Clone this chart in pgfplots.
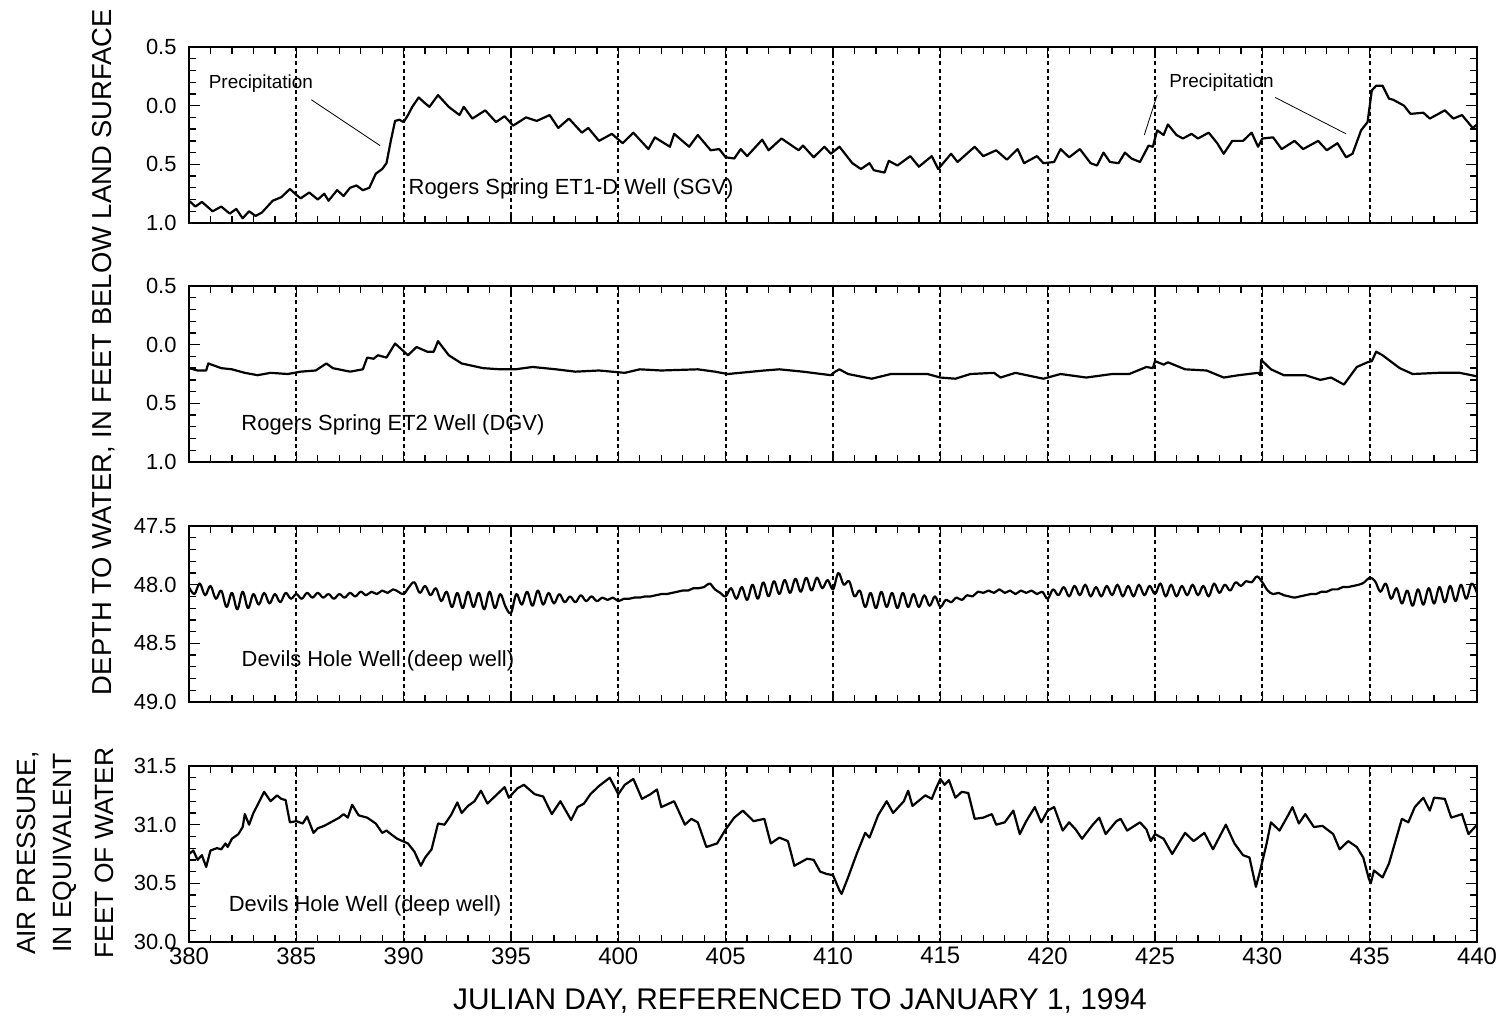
\documentclass[border=0pt]{standalone}
\usepackage{fontspec}
\setmainfont{Liberation Sans}
\usepackage{pgfplots}
\pgfplotsset{compat=1.18}
\pgfplotsset{
  panel/.style={
    width=1288bp, height=176bp, scale only axis, anchor=north west,
    xmin=380, xmax=440,
    xtick={380,385,...,440},
    minor x tick num=4,
    minor y tick num=4,
    axis line style={line width=2.4bp},
    major tick length=11bp,
    minor tick length=7bp,
    every tick/.style={black, line width=1.3bp},
    xmajorgrids,
    major grid style={black, line width=2bp, dash pattern=on 4bp off 3.2bp},
    yticklabel style={font=\fontsize{22}{26}\selectfont},
    yticklabel shift=9bp,
    xticklabel style={font=\fontsize{24}{28}\selectfont},
    /pgf/number format/assume math mode=true,
    xticklabels={},
  },
  curve/.style={black, line width=2.2bp, no marks, line join=round},
}
\tikzset{
  lbl/.style={font=\fontsize{22}{26}\selectfont},
  prc/.style={font=\fontsize{19}{22}\selectfont},
}
\begin{document}
\begin{tikzpicture}[x=1bp,y=1bp]
% ---------- Panel 1 ----------
\begin{axis}[panel, at={(189bp,-47bp)}, y dir=reverse, ymin=-0.5, ymax=1.0,
  ytick={-0.5,0,0.5,1}, yticklabels={0.5,0.0,0.5,1.0}]
\addplot[curve] coordinates {
(380.0,0.81)(380.3,0.86)(380.6,0.82)(381.1,0.90)(381.5,0.86)(381.9,0.92)(382.2,0.88)(382.5,0.96)
(382.8,0.90)(383.1,0.94)(383.4,0.91)(383.9,0.81)(384.3,0.78)(384.7,0.71)(385.0,0.76)(385.2,0.79)
(385.6,0.74)(386.0,0.80)(386.3,0.75)(386.5,0.81)(386.9,0.72)(387.2,0.77)(387.5,0.70)(387.8,0.68)
(388.1,0.72)(388.4,0.70)(388.7,0.58)(389.0,0.54)(389.2,0.49)(389.4,0.30)(389.6,0.13)(389.8,0.12)
(390.0,0.14)(390.2,0.08)(390.4,0.01)(390.7,-0.07)(391.0,-0.02)(391.2,0.01)(391.6,-0.09)(392.1,0.01)
(392.6,0.08)(392.8,0.01)(393.2,0.11)(393.8,0.04)(394.3,0.14)(394.7,0.09)(395.1,0.17)(395.7,0.10)
(396.2,0.13)(396.8,0.08)(397.2,0.19)(397.7,0.11)(398.3,0.23)(398.6,0.19)(399.1,0.30)(399.7,0.24)
(400.2,0.32)(400.7,0.23)(401.4,0.37)(401.7,0.27)(402.4,0.35)(402.6,0.24)(403.3,0.35)(403.7,0.25)
(404.3,0.38)(404.7,0.37)(405.0,0.44)(405.4,0.45)(405.7,0.37)(406.0,0.43)(406.7,0.29)(407.0,0.38)
(407.6,0.28)(408.4,0.38)(408.6,0.34)(409.1,0.44)(409.6,0.35)(409.9,0.41)(410.3,0.35)(410.9,0.49)
(411.3,0.54)(411.7,0.49)(411.9,0.55)(412.4,0.57)(412.6,0.47)(413.0,0.51)(413.6,0.43)(414.0,0.52)
(414.6,0.43)(414.9,0.54)(415.5,0.41)(415.8,0.48)(416.6,0.35)(417.0,0.43)(417.6,0.38)(418.1,0.46)
(418.6,0.37)(418.9,0.49)(419.5,0.43)(419.8,0.49)(420.3,0.48)(420.6,0.37)(421.0,0.44)(421.5,0.37)
(422.0,0.49)(422.3,0.51)(422.6,0.40)(422.9,0.48)(423.3,0.49)(423.6,0.40)(423.9,0.45)(424.3,0.48)
(424.7,0.34)(424.9,0.35)(425.1,0.21)(425.4,0.25)(425.6,0.16)(426.0,0.25)(426.3,0.28)(426.7,0.24)
(427.0,0.28)(427.5,0.23)(427.9,0.32)(428.2,0.41)(428.6,0.30)(429.1,0.30)(429.5,0.23)(429.8,0.35)
(430.0,0.28)(430.5,0.27)(430.9,0.37)(431.5,0.30)(431.9,0.37)(432.6,0.30)(433.0,0.38)(433.5,0.32)
(433.9,0.44)(434.2,0.41)(434.6,0.21)(434.9,0.14)(435.1,-0.13)(435.3,-0.17)(435.6,-0.17)(435.9,-0.06)
(436.1,-0.05)(436.6,0.00)(436.9,0.07)(437.5,0.06)(437.8,0.11)(438.5,0.04)(438.9,0.11)(439.3,0.08)
(439.8,0.19)(440.0,0.16)
};
\node[prc] at (axis cs:383.35,-0.19) {Precipitation};
\draw[line width=0.8bp] (axis cs:385.7,-0.05) -- (axis cs:388.9,0.34);
\node[prc] at (axis cs:428.1,-0.2) {Precipitation};
\draw[line width=0.8bp] (axis cs:425.1,-0.09) -- (axis cs:424.5,0.25);
\draw[line width=0.8bp] (axis cs:430.6,-0.07) -- (axis cs:433.9,0.24);
\node[lbl] at (axis cs:397.8,0.71) {Rogers Spring ET1-D Well (SGV)};
\end{axis}
% ---------- Panel 2 ----------
\begin{axis}[panel, at={(189bp,-286bp)}, y dir=reverse, ymin=-0.5, ymax=1.0,
  ytick={-0.5,0,0.5,1}, yticklabels={0.5,0.0,0.5,1.0}]
\addplot[curve] coordinates {
(380.0,0.20)(380.4,0.22)(380.8,0.22)(380.9,0.16)(381.5,0.20)(382.0,0.21)(382.6,0.24)(383.2,0.26)
(383.8,0.24)(384.6,0.25)(385.2,0.23)(385.9,0.22)(386.4,0.16)(386.7,0.20)(387.5,0.23)(388.1,0.21)
(388.3,0.11)(388.6,0.12)(388.8,0.09)(389.2,0.11)(389.6,-0.01)(390.2,0.09)(390.6,0.02)(391.1,0.06)
(391.4,0.06)(391.6,-0.03)(392.1,0.09)(392.7,0.16)(393.7,0.20)(394.5,0.21)(395.2,0.21)(396.0,0.19)
(397.1,0.21)(398.0,0.23)(399.1,0.22)(400.3,0.24)(401.0,0.21)(402.0,0.22)(403.7,0.21)(404.5,0.23)
(405.1,0.25)(406.8,0.22)(407.5,0.21)(408.6,0.23)(409.9,0.26)(410.1,0.23)(410.3,0.21)(410.7,0.25)
(411.8,0.29)(412.7,0.25)(413.5,0.25)(414.4,0.25)(415.0,0.28)(415.7,0.29)(416.4,0.25)(417.5,0.24)
(417.8,0.28)(418.5,0.24)(419.8,0.29)(420.6,0.25)(421.8,0.28)(423.0,0.25)(423.8,0.25)(424.6,0.19)
(424.9,0.20)(425.0,0.14)(425.4,0.17)(425.6,0.15)(426.4,0.21)(427.4,0.22)(428.2,0.28)(428.9,0.26)
(429.8,0.24)(429.9,0.26)(429.95,0.13)(430.4,0.21)(431.0,0.26)(432.0,0.26)(432.7,0.30)(433.2,0.28)
(433.8,0.34)(434.4,0.19)(434.9,0.15)(435.1,0.14)(435.3,0.06)(435.6,0.09)(436.4,0.20)(437.0,0.25)
(438.2,0.24)(439.2,0.24)(440.0,0.27)
};
\node[lbl] at (axis cs:389.5,0.68) {Rogers Spring ET2 Well (DGV)};
\end{axis}
% ---------- Panel 3 ----------
\begin{axis}[panel, at={(189bp,-526bp)}, y dir=reverse, ymin=47.5, ymax=49.0,
  ytick={47.5,48,48.5,49}, yticklabels={47.5,48.0,48.5,49.0}]
\addplot[curve, smooth, tension=0.6] coordinates {
(380.00,48.02)(380.25,48.08)(380.50,47.99)(380.75,48.09)(381.00,48.01)(381.25,48.12)(381.50,48.05)(381.75,48.19)
(382.00,48.07)(382.25,48.21)(382.50,48.06)(382.75,48.20)(383.00,48.08)(383.25,48.17)(383.50,48.07)(383.75,48.16)
(384.00,48.08)(384.25,48.15)(384.50,48.07)(384.75,48.12)(385.00,48.08)(385.25,48.12)(385.50,48.07)(385.75,48.11)
(386.00,48.07)(386.25,48.11)(386.50,48.08)(386.75,48.12)(387.00,48.08)(387.25,48.11)(387.50,48.07)(387.75,48.10)
(388.00,48.06)(388.25,48.09)(388.50,48.06)(388.75,48.08)(389.00,48.05)(389.25,48.07)(389.50,48.04)(389.75,48.06)
(390.00,48.08)(390.25,48.02)(390.50,47.98)(390.75,48.07)(391.00,48.01)(391.25,48.09)(391.50,48.03)(391.75,48.14)
(392.00,48.06)(392.25,48.19)(392.50,48.07)(392.75,48.20)(393.00,48.06)(393.25,48.19)(393.50,48.07)(393.75,48.21)
(394.00,48.06)(394.25,48.20)(394.50,48.08)(394.75,48.19)(395.00,48.24)(395.25,48.08)(395.50,48.17)(395.75,48.06)
(396.00,48.18)(396.25,48.05)(396.50,48.17)(396.75,48.07)(397.00,48.16)(397.25,48.08)(397.50,48.15)(397.75,48.10)
(398.00,48.15)(398.25,48.09)(398.50,48.14)(398.75,48.10)(399.00,48.14)(399.25,48.11)(399.50,48.13)(399.75,48.11)
(400.00,48.14)(400.25,48.12)(400.50,48.12)(400.75,48.11)(401.00,48.11)(401.25,48.10)(401.50,48.10)(401.75,48.09)
(402.00,48.08)(402.25,48.08)(402.50,48.07)(402.75,48.06)(403.00,48.05)(403.25,48.05)(403.50,48.03)(403.75,48.03)
(404.00,48.02)(404.25,47.99)(404.50,48.04)(404.75,48.07)(405.00,48.10)(405.25,48.03)(405.50,48.12)(405.75,48.02)
(406.00,48.13)(406.25,48.00)(406.50,48.12)(406.75,47.98)(407.00,48.10)(407.25,47.97)(407.50,48.08)(407.75,47.96)
(408.00,48.07)(408.25,47.95)(408.50,48.06)(408.75,47.94)(409.00,48.05)(409.25,47.94)(409.50,48.03)(409.75,47.96)
(410.00,48.04)(410.25,47.90)(410.50,48.00)(410.75,47.97)(411.00,48.10)(411.25,48.05)(411.50,48.19)(411.75,48.07)
(412.00,48.20)(412.25,48.06)(412.50,48.19)(412.75,48.07)(413.00,48.20)(413.25,48.07)(413.50,48.19)(413.75,48.08)
(414.00,48.19)(414.25,48.09)(414.50,48.18)(414.75,48.10)(415.00,48.19)(415.25,48.13)(415.50,48.15)(415.75,48.11)
(416.00,48.13)(416.25,48.09)(416.50,48.10)(416.75,48.06)(417.00,48.07)(417.25,48.05)(417.50,48.07)(417.75,48.04)
(418.00,48.07)(418.25,48.05)(418.50,48.08)(418.75,48.05)(419.00,48.07)(419.25,48.05)(419.50,48.08)(419.75,48.06)
(420.00,48.12)(420.25,48.04)(420.50,48.09)(420.75,48.02)(421.00,48.10)(421.25,48.01)(421.50,48.09)(421.75,48.00)
(422.00,48.10)(422.25,48.02)(422.50,48.10)(422.75,48.01)(423.00,48.09)(423.25,48.00)(423.50,48.10)(423.75,48.01)
(424.00,48.10)(424.25,48.00)(424.50,48.09)(424.75,48.01)(425.00,48.08)(425.25,47.99)(425.50,48.10)(425.75,48.00)
(426.00,48.10)(426.25,48.01)(426.50,48.09)(426.75,48.00)(427.00,48.09)(427.25,48.01)(427.50,48.10)(427.75,47.99)
(428.00,48.07)(428.25,48.00)(428.50,48.05)(428.75,47.98)(429.00,48.01)(429.25,47.97)(429.50,47.98)(429.75,47.93)
(430.00,47.98)(430.25,48.05)(430.50,48.08)(430.75,48.07)(431.00,48.09)(431.25,48.10)(431.50,48.11)(431.75,48.10)
(432.00,48.09)(432.25,48.08)(432.50,48.08)(432.75,48.06)(433.00,48.06)(433.25,48.04)(433.50,48.04)(433.75,48.02)
(434.00,48.02)(434.25,48.01)(434.50,48.00)(434.75,47.98)(435.00,47.94)(435.25,47.97)(435.50,48.06)(435.75,47.99)
(436.00,48.12)(436.25,48.03)(436.50,48.16)(436.75,48.05)(437.00,48.18)(437.25,48.04)(437.50,48.17)(437.75,48.03)
(438.00,48.16)(438.25,48.02)(438.50,48.15)(438.75,48.01)(439.00,48.14)(439.25,48.00)(439.50,48.12)(439.75,47.99)
(440.00,48.07)
};
\node[lbl] at (axis cs:388.8,48.65) {Devils Hole Well (deep well)};
\end{axis}
% ---------- Panel 4 ----------
\begin{axis}[panel, at={(189bp,-766bp)}, ymin=30.0, ymax=31.5,
  ytick={30,30.5,31,31.5}, yticklabels={30.0,30.5,31.0,31.5},
  xticklabels={380,385,390,395,400,405,410,415,420,425,430,435,440},
  xticklabel shift=2bp]
\addplot[curve] coordinates {
(380.0,30.75)(380.2,30.78)(380.4,30.70)(380.6,30.74)(380.8,30.64)(381.0,30.78)(381.3,30.80)(381.5,30.79)
(381.7,30.84)(381.8,30.81)(382.0,30.88)(382.3,30.92)(382.5,30.98)(382.6,31.09)(382.8,31.00)(383.0,31.10)
(383.2,31.17)(383.5,31.28)(383.8,31.20)(384.1,31.25)(384.3,31.22)(384.5,31.21)(384.7,31.02)(385.0,31.03)
(385.3,31.01)(385.5,31.07)(385.8,30.93)(386.0,30.97)(386.3,30.99)(386.7,31.03)(387.0,31.06)(387.2,31.09)
(387.4,31.06)(387.6,31.17)(387.9,31.08)(388.3,31.06)(388.7,31.01)(389.0,30.93)(389.2,30.95)(389.4,30.92)
(389.7,30.88)(390.2,30.84)(390.5,30.77)(390.8,30.65)(391.0,30.72)(391.3,30.79)(391.6,31.01)(391.9,31.00)
(392.2,31.08)(392.5,31.19)(392.7,31.10)(393.0,31.16)(393.3,31.20)(393.6,31.29)(393.9,31.18)(394.3,31.25)
(394.7,31.32)(394.9,31.23)(395.3,31.31)(395.6,31.34)(396.1,31.26)(396.5,31.24)(396.9,31.09)(397.3,31.20)
(397.8,31.04)(398.1,31.15)(398.4,31.18)(398.7,31.26)(399.1,31.33)(399.6,31.40)(400.0,31.26)(400.3,31.34)
(400.7,31.39)(401.1,31.22)(401.5,31.26)(401.8,31.30)(402.0,31.15)(402.6,31.20)(403.1,31.00)(403.4,31.05)
(403.7,31.02)(404.1,30.81)(404.6,30.84)(405.0,30.96)(405.4,31.06)(405.8,31.12)(406.3,31.03)(406.8,31.05)
(407.1,30.84)(407.5,30.89)(407.9,30.86)(408.2,30.65)(408.8,30.71)(409.1,30.70)(409.4,30.60)(409.7,30.58)
(410.0,30.57)(410.3,30.44)(410.4,30.41)(410.7,30.55)(411.1,30.75)(411.5,30.93)(411.7,30.89)(412.1,31.08)
(412.5,31.20)(412.8,31.10)(413.3,31.20)(413.5,31.29)(413.7,31.16)(414.3,31.25)(414.6,31.22)(414.8,31.31)
(415.0,31.39)(415.2,31.34)(415.4,31.38)(415.7,31.23)(416.0,31.28)(416.3,31.27)(416.6,31.05)(417.0,31.06)
(417.4,31.09)(417.6,31.00)(418.0,31.02)(418.4,31.12)(418.7,30.92)(419.0,31.03)(419.4,31.15)(419.7,31.02)
(420.0,31.12)(420.3,31.15)(420.7,30.95)(421.0,31.02)(421.3,30.96)(421.6,30.88)(422.1,31.00)(422.4,31.06)
(422.7,30.92)(423.2,31.03)(423.4,31.05)(423.7,30.95)(424.3,31.02)(424.6,30.96)(424.8,30.86)(425.0,30.92)
(425.4,30.88)(425.8,30.75)(426.4,30.93)(426.8,30.86)(427.3,30.93)(427.7,30.79)(428.3,31.00)(428.7,30.84)
(429.1,30.74)(429.4,30.72)(429.7,30.47)(429.9,30.61)(430.2,30.84)(430.4,31.02)(430.8,30.95)(431.2,31.08)
(431.4,31.15)(431.7,31.01)(432.0,31.09)(432.4,30.98)(432.8,30.99)(433.3,30.92)(433.6,30.79)(434.0,30.86)
(434.4,30.81)(434.7,30.72)(434.96,30.54)(435.05,30.50)(435.2,30.61)(435.6,30.55)(435.9,30.67)(436.2,30.86)
(436.5,31.05)(436.8,31.02)(437.1,31.15)(437.5,31.23)(437.8,31.12)(438.0,31.23)(438.5,31.22)(438.8,31.06)
(439.3,31.09)(439.6,30.92)(440.0,31.00)
};
\node[lbl] at (axis cs:388.2,30.31) {Devils Hole Well (deep well)};
\end{axis}
% ---------- Axis titles ----------
\node[rotate=90, font=\fontsize{27.5}{30}\selectfont] at (104,-352) {DEPTH TO WATER, IN FEET BELOW LAND SURFACE};
\node[rotate=90, font=\fontsize{26.5}{30}\selectfont] at (28,-853) {AIR PRESSURE,};
\node[rotate=90, font=\fontsize{26.5}{30}\selectfont] at (65,-853) {IN EQUIVALENT};
\node[rotate=90, font=\fontsize{26.5}{30}\selectfont] at (104,-853) {FEET OF WATER};
\node[font=\fontsize{30}{32}\selectfont] at (800,-1001) {JULIAN DAY, REFERENCED TO JANUARY 1, 1994};
\pgfresetboundingbox
\useasboundingbox (0,0) rectangle (1497,-1032);
\end{tikzpicture}
\end{document}
